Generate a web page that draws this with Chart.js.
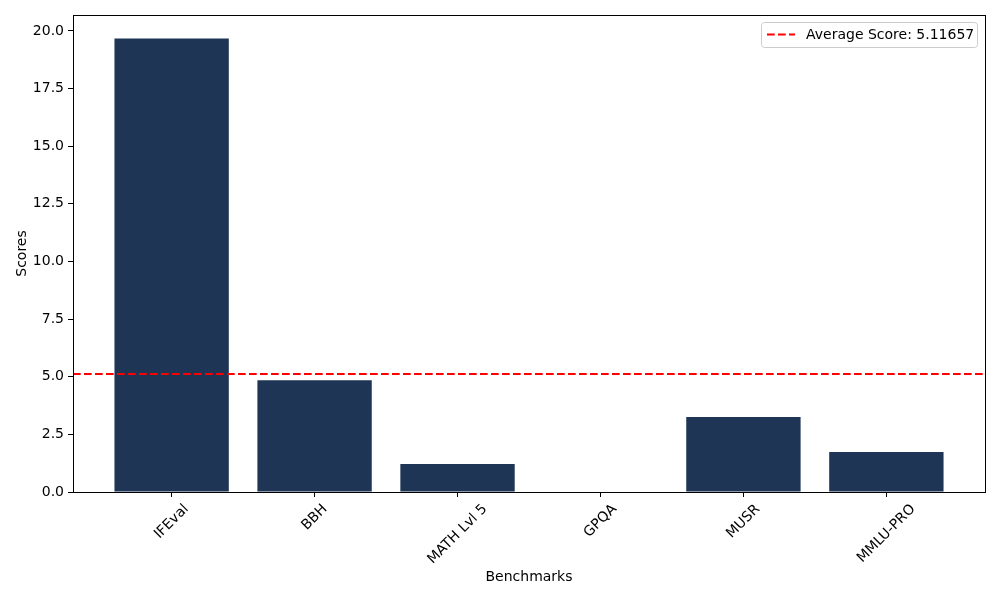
<!DOCTYPE html>
<html>
<head>
<meta charset="utf-8">
<script src="https://cdn.jsdelivr.net/npm/chart.js@4/dist/chart.umd.min.js"></script>
<style>
  html, body { margin: 0; padding: 0; background: #fff; }
  #wrap { width: 1000px; height: 600px; }
</style>
</head>
<body>
<div id="wrap"><canvas id="c" width="1000" height="600"></canvas></div>
<script>
const categories = ['IFEval', 'BBH', 'MATH Lvl 5', 'GPQA', 'MUSR', 'MMLU-PRO'];
const scores = [19.67, 4.85, 1.21, 0, 3.25, 1.73];
const averageScore = 5.11657;
const yTicks = [0, 2.5, 5, 7.5, 10, 12.5, 15, 17.5, 20];
const legendLabel = 'Average Score: 5.11657';
const xMin = -0.69, xMax = 5.69, yMax = 20.69;

const FONT = "'DejaVu Sans', sans-serif";
const barColor = '#1f3556';

const frameAndLabels = {
  id: 'frameAndLabels',
  afterDraw(chart) {
    const ctx = chart.ctx;
    const a = chart.chartArea;
    const xs = chart.scales.x;
    ctx.save();
    ctx.strokeStyle = '#000';
    ctx.lineWidth = 1;
    ctx.strokeRect(Math.round(a.left) + 0.5, Math.round(a.top) + 0.5,
                   Math.round(a.right - a.left), Math.round(a.bottom - a.top));
    ctx.font = '14px ' + FONT;
    ctx.fillStyle = '#000';
    ctx.textAlign = 'center';
    ctx.textBaseline = 'middle';
    const c45 = Math.SQRT1_2;
    categories.forEach((lab, i) => {
      const x = xs.getPixelForValue(i);
      const w = ctx.measureText(lab).width;
      const h = 14;
      const top = a.bottom + 10;
      const cy = top + (w + h) * c45 / 2;
      ctx.save();
      ctx.translate(x, cy);
      ctx.rotate(-Math.PI / 4);
      ctx.fillText(lab, 0, 0);
      ctx.restore();
    });
    const bx = 761.5, by = 22.5, bw = 216, bh = 25;
    const r = 3;
    ctx.beginPath();
    ctx.moveTo(bx + r, by);
    ctx.lineTo(bx + bw - r, by);
    ctx.quadraticCurveTo(bx + bw, by, bx + bw, by + r);
    ctx.lineTo(bx + bw, by + bh - r);
    ctx.quadraticCurveTo(bx + bw, by + bh, bx + bw - r, by + bh);
    ctx.lineTo(bx + r, by + bh);
    ctx.quadraticCurveTo(bx, by + bh, bx, by + bh - r);
    ctx.lineTo(bx, by + r);
    ctx.quadraticCurveTo(bx, by, bx + r, by);
    ctx.closePath();
    ctx.fillStyle = 'rgba(255,255,255,0.8)';
    ctx.fill();
    ctx.strokeStyle = '#cccccc';
    ctx.lineWidth = 1;
    ctx.stroke();
    ctx.beginPath();
    ctx.setLineDash([7.7, 3.3]);
    ctx.strokeStyle = '#ff0000';
    ctx.lineWidth = 2;
    ctx.moveTo(767, 34.5);
    ctx.lineTo(795, 34.5);
    ctx.stroke();
    ctx.setLineDash([]);
    ctx.fillStyle = '#000';
    ctx.textAlign = 'left';
    ctx.textBaseline = 'middle';
    ctx.fillText(legendLabel, 806, 35);
    ctx.restore();
  }
};

new Chart(document.getElementById('c'), {
  data: {
    datasets: [
      {
        type: 'bar',
        data: scores.map((v, i) => ({ x: i, y: v })),
        backgroundColor: barColor,
        borderWidth: 0,
        inflateAmount: 0,
        barPercentage: 0.8,
        categoryPercentage: 1.0,
        order: 2
      },
      {
        type: 'line',
        data: [{ x: xMin, y: averageScore }, { x: xMax, y: averageScore }],
        borderColor: '#ff0000',
        borderWidth: 2,
        borderDash: [7.7, 3.3],
        pointRadius: 0,
        fill: false,
        order: 1
      }
    ]
  },
  options: {
    responsive: false,
    animation: false,
    layout: { padding: { left: 0, right: 15, top: 15, bottom: 0 } },
    plugins: { legend: { display: false }, tooltip: { enabled: false } },
    scales: {
      x: {
        type: 'linear',
        min: xMin,
        max: xMax,
        offset: false,
        afterBuildTicks(s) { s.ticks = categories.map((_, i) => ({ value: i })); },
        afterFit(s) { s.height = 108; },
        grid: { offset: false, drawOnChartArea: false, drawTicks: true, tickLength: 5, color: '#000', tickColor: '#000' },
        border: { display: true, color: '#000', width: 1 },
        ticks: { display: false },
        title: { display: true, text: 'Benchmarks', color: '#000', font: { family: FONT, size: 14 }, padding: { top: 4, bottom: 14 } }
      },
      y: {
        type: 'linear',
        min: 0,
        max: yMax,
        afterBuildTicks(s) { s.ticks = yTicks.map(v => ({ value: v })); },
        afterFit(s) { s.width = 73; },
        grid: { drawOnChartArea: false, drawTicks: true, tickLength: 5, color: '#000', tickColor: '#000' },
        border: { display: true, color: '#000', width: 1 },
        ticks: {
          color: '#000',
          font: { family: FONT, size: 14 },
          padding: 4,
          callback: v => v.toFixed(1)
        },
        title: { display: true, text: 'Scores', color: '#000', font: { family: FONT, size: 14 }, padding: { top: 14, bottom: 4 } }
      }
    }
  },
  plugins: [frameAndLabels]
});
</script>
</body>
</html>
